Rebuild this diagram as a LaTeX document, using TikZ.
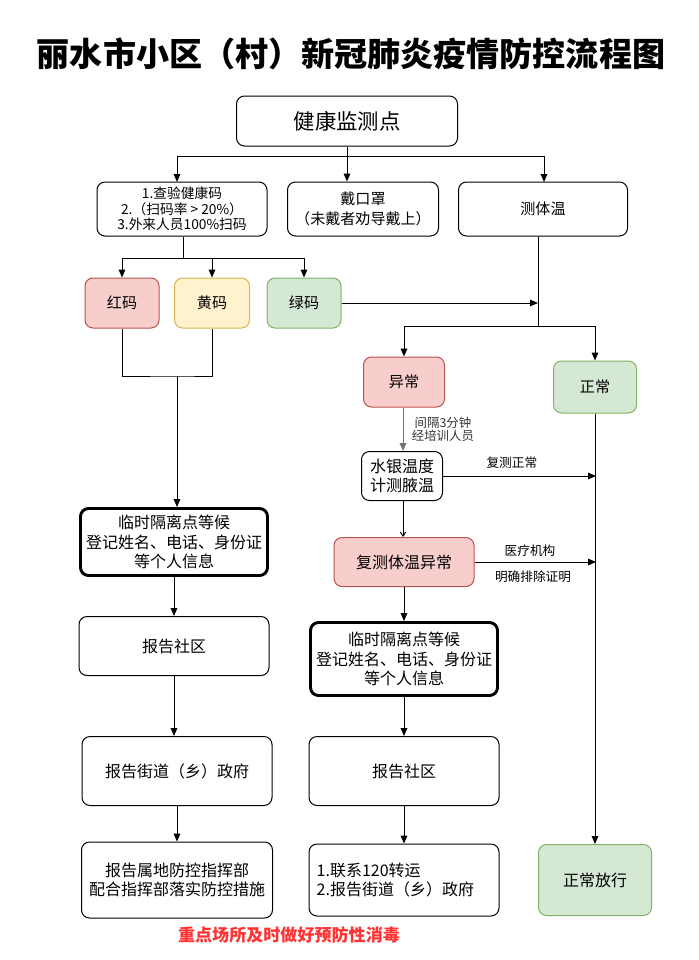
\documentclass[tikz,border=0pt]{standalone}
\usepackage{fontspec}
\setmainfont{Noto Sans CJK SC}
\usetikzlibrary{arrows.meta}
\definecolor{redfill}{HTML}{F8CECC}
\definecolor{redline}{HTML}{B85450}
\definecolor{yelfill}{HTML}{FFF2CC}
\definecolor{yelline}{HTML}{D6B656}
\definecolor{grnfill}{HTML}{D5E8D4}
\definecolor{grnline}{HTML}{82B366}
\definecolor{alertred}{HTML}{FF3333}
\begin{document}
\begin{tikzpicture}[x=0.75pt,y=-0.75pt,
  box/.style={draw, rounded corners=6pt, align=center, inner sep=0pt, line width=0.75pt},
  sz/.style 2 args={minimum width={#1*0.75pt}, minimum height={#2*0.75pt}},
  thickbox/.style={box, line width=2.2pt},
  redbox/.style={box, fill=redfill, draw=redline},
  yelbox/.style={box, fill=yelfill, draw=yelline},
  grnbox/.style={box, fill=grnfill, draw=grnline},
  fA/.style={font={\fontsize{10.3}{11.8}\selectfont}},
  fB/.style={font={\fontsize{11.3}{15}\selectfont}},
  fC/.style={font={\fontsize{12}{14.5}\selectfont}},
  fD/.style={font={\fontsize{16}{19}\selectfont}},
  lbl/.style={font={\fontsize{9.3}{10.2}\selectfont}},
  ln/.style={line width=0.75pt},
  arr/.style={ln, -{Triangle[length=6pt,width=5pt]}},
  thinarr/.style={ln, -{Straight Barb[length=3pt,width=4pt]}}]
\useasboundingbox (0,0) rectangle (699,960);

\node[font={\fontsize{24.8}{28}\selectfont\bfseries}] (title) at (351,54) {丽水市小区（村）新冠肺炎疫情防控流程图};

\node[box, sz={221}{50}, fD] (jk) at (347,121) {健康监测点};
\node[box, sz={170}{54}, fA] (b1) at (182,209) {1.查验健康码\\2.（扫码率 > 20\%）\\3.外来人员100\%扫码};
\node[box, sz={151}{54}, fB] (mask) at (363,209) {戴口罩\\（未戴者劝导戴上）};
\node[box, sz={169}{54}, fB] (temp) at (543,209) {测体温};

\node[redbox, sz={74}{50}, fB] (red) at (122,303) {红码};
\node[yelbox, sz={75}{50}, fB] (yel) at (212,303) {黄码};
\node[grnbox, sz={74}{50}, fB] (grn) at (304,303) {绿码};

\node[redbox, sz={81}{50}, fB] (ab) at (404,382) {异常};
\node[grnbox, sz={83}{52}, fB] (ok) at (595,387) {正常};

\node[box, sz={81}{49}, fC] (hg) at (402,476) {水银温度\\计测腋温};
\node[redbox, sz={140}{49}, fC] (fc) at (404,562) {复测体温异常};

\node[thickbox, sz={187}{67}, fC] (isoL) at (174,542) {临时隔离点等候\\登记姓名、电话、身份证\\等个人信息};
\node[box, sz={190}{59}, fC] (commL) at (174,646) {报告社区};
\node[box, sz={190}{69}, fC] (streetL) at (177,771) {报告街道（乡）政府};
\node[box, sz={191}{76}, fC] (dept) at (177,880) {报告属地防控指挥部\\配合指挥部落实防控措施};

\node[thickbox, sz={187}{73}, fC] (isoR) at (404,659) {临时隔离点等候\\登记姓名、电话、身份证\\等个人信息};
\node[box, sz={190}{69}, fC] (commR) at (404,771) {报告社区};
\node[box, sz={190}{72}, fC] (call) at (404,880) {};
\node[fC, align=left, anchor=west] (calltxt) at (312,880) {1.联系120转运\\2.报告街道（乡）政府};
\node[grnbox, sz={113}{71}, fC] (rel) at (595,880) {正常放行};

\node[font={\fontsize{12.8}{14}\selectfont\bfseries}, text=alertred] (note) at (289,935) {重点场所及时做好预防性消毒};

% top split
\coordinate (js) at (347,156);
\draw[ln] (jk.south -| js) -- (js);
\draw[arr] (js) -- (js |- mask.north);
\draw[arr] (js) -| (177,182) coordinate (b1in);
\draw[arr] (js) -| (544,182) coordinate (tin);

% code split
\coordinate (bs) at (183,258);
\draw[ln] (b1.south -| bs) -- (bs);
\draw[arr] (bs) -| (red.north);
\draw[arr] (bs) -| (yel.north);
\draw[arr] (bs) -| (grn.north);

% green to temperature line
\coordinate (gj) at (538,303);
\draw[arr] (grn.east) -- (gj);

% temperature split
\coordinate (tj) at (538,326);
\draw[ln] (temp.south -| tj) -- (tj);
\draw[arr] (tj) -| (ab.north);
\draw[arr] (tj) -| (ok.north);

% red / yellow merge
\coordinate (lj) at (177,376);
\draw[ln] (red.south) |- (lj) -| (yel.south);
\draw[arr] (lj) -- (lj |- isoL.north);

% abnormal branch
\draw[arr, draw=black!55] (ab.south -| 403,0) -- (403,0 |- hg.north)
  node[midway, right=3pt, lbl, align=center, text=black!80] (lab1) {间隔3分钟\\经培训人员};
\coordinate (r1) at (596,476);
\draw[arr] (hg.east) -- (r1) node[pos=0.45, above=2pt, font={\fontsize{9.5}{11}\selectfont}] (lab2) {复测正常};
\draw[thinarr] (hg.south -| 403,0) -- (403,0 |- fc.north);
\coordinate (r2) at (596,562);
\draw[arr] (fc.east) -- (r2);
\node[font={\fontsize{9.5}{11}\selectfont}] (lab3) at (530,551) {医疗机构};
\node[font={\fontsize{9.5}{11}\selectfont}] (lab4) at (533,577) {明确排除证明};

% normal branch
\draw[arr] (ok.south) -- (rel.north);

% left chain
\draw[arr] (isoL.south) -- (commL.north);
\draw[arr] (commL.south) -- (commL.south |- streetL.north);
\draw[arr] (streetL.south) -- (dept.north);

% right chain
\draw[arr] (fc.south) -- (isoR.north);
\draw[arr] (isoR.south) -- (commR.north);
\draw[arr] (commR.south) -- (call.north);
\end{tikzpicture}
\end{document}
